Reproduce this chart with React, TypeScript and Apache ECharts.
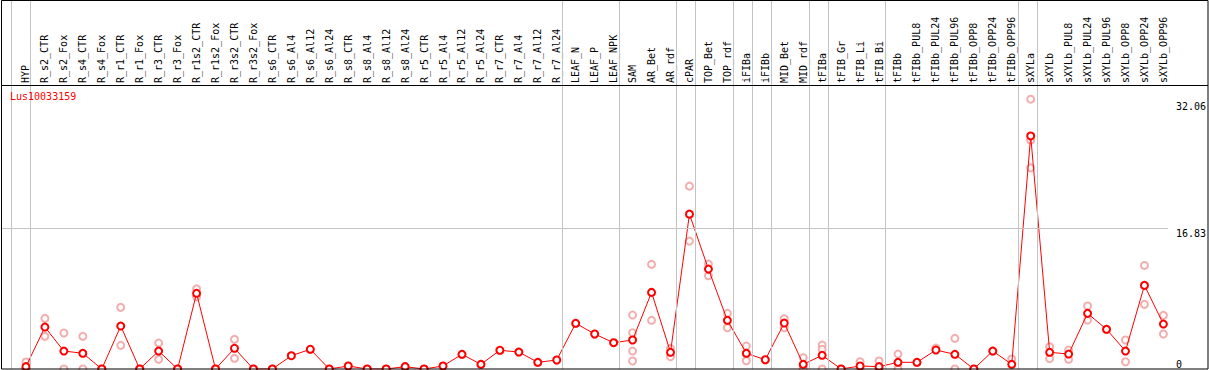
import React, { useEffect, useRef } from "react";
import * as echarts from "echarts";

const geneId = "Lus10033159";

const categories = [
  "HYP", "R_s2_CTR", "R_s2_Fox", "R_s4_CTR", "R_s4_Fox", "R_r1_CTR", "R_r1_Fox", "R_r3_CTR", "R_r3_Fox",
  "R_r1s2_CTR", "R_r1s2_Fox", "R_r3s2_CTR", "R_r3s2_Fox", "R_s6_CTR", "R_s6_Al4", "R_s6_Al12", "R_s6_Al24",
  "R_s8_CTR", "R_s8_Al4", "R_s8_Al12", "R_s8_Al24", "R_r5_CTR", "R_r5_Al4", "R_r5_Al12", "R_r5_Al24",
  "R_r7_CTR", "R_r7_Al4", "R_r7_Al12", "R_r7_Al24", "LEAF_N", "LEAF_P", "LEAF_NPK", "SAM", "AR_Bet", "AR_rdf",
  "cPAR", "TOP_Bet", "TOP_rdf", "iFIBa", "iFIBb", "MID_Bet", "MID_rdf", "tFIBa", "tFIB_Gr", "tFIB_Li", "tFIB_Bi",
  "tFIBb", "tFIBb_PUL8", "tFIBb_PUL24", "tFIBb_PUL96", "tFIBb_OPP8", "tFIBb_OPP24", "tFIBb_OPP96",
  "sXYLa", "sXYLb", "sXYLb_PUL8", "sXYLb_PUL24", "sXYLb_PUL96", "sXYLb_OPP8", "sXYLb_OPP24", "sXYLb_OPP96",
];

const means = [
  0.28, 5.02, 2.15, 1.88, 0, 5.14, 0, 2.15, 0, 9.06, 0, 2.48, 0, 0, 1.59, 2.36, 0,
  0.36, 0, 0, 0.28, 0, 0.36, 1.76, 0.56, 2.24, 2.03, 0.8, 1.08, 5.47, 4.19, 3.15, 3.47, 9.17, 2.0,
  18.54, 11.96, 5.83, 1.88, 1.11, 5.5, 0.56, 1.64, 0, 0.36, 0.28,
  0.8, 0.8, 2.27, 1.76, 0, 2.15, 0.56,
  27.9, 2.0, 1.79, 6.66, 4.75, 2.15, 10.01, 5.38,
];

const replicates = [
  [0.84, 0, 0], [6.06, 3.91], [4.31, 0], [3.91, 0], [0, 0], [7.38, 2.83], [0, 0], [3.11, 1.16], [0, 0],
  [9.6, 8.65], [0, 0], [3.55, 1.28], [0, 0], [0, 0], [1.59], [2.36], [0],
  [0.36], [0], [0], [0.28], [0], [0.36], [1.76], [0.56],
  [2.24], [2.03], [0.8], [1.08], [5.47], [4.19], [3.15], [6.46, 4.34, 2.15, 0.96], [12.52, 5.83], [2.48, 1.47],
  [21.89, 15.31], [12.56, 11.16], [6.66, 4.94], [2.75, 0.99], [1.11], [6.02, 4.94], [1.35, 0.33, 0], [2.87, 2.36, 0], [0], [0.87, 0.12], [0.96, 0],
  [1.79, 0], [0.8], [2.51], [3.67, 0], [0], [2.15], [1.2],
  [32.3, 27.39, 24.08], [2.67, 1.23], [2.27, 1.16], [7.54, 5.86], [4.75], [3.47, 0.87], [12.4, 7.74], [6.42, 4.19],
];

// index of the last category of each group (-1 = before the first)
const groupEnds = [-1, 0, 28, 31, 34, 35, 37, 38, 39, 41, 42, 45, 52, 53, 60];

const yTicksTop = [16.83, 32.06];
const yTicksBottom = [0];
const gridLineValue = 16.83;

const XMIN = -1.316;
const XMAX = 60.237;
const YMAX = 34;
const SEP_OFFSET = 0.237;

const FONT = "'DejaVu Sans Mono', monospace";
const GRAY = "#c4c4c4";

export default function App() {
  const ref = useRef<HTMLDivElement>(null);

  useEffect(() => {
    if (!ref.current) return;
    const chart = echarts.init(ref.current, undefined, { renderer: "svg" });

    const sepLines = groupEnds.map((i) => ({ xAxis: i + SEP_OFFSET }));
    const repData: number[][] = [];
    replicates.forEach((arr, i) => arr.forEach((v) => repData.push([i, v])));

    chart.setOption({
      animation: false,
      grid: [
        { left: 1, right: 38.5, top: 85, bottom: 1 },
        { left: 1, right: 38.5, top: 0, bottom: 1 },
      ],
      xAxis: [
        { gridIndex: 0, type: "value", min: XMIN, max: XMAX, show: false },
        {
          gridIndex: 0,
          type: "value",
          min: XMIN,
          max: XMAX,
          position: "top",
          axisLine: { show: false },
          axisTick: { show: false },
          splitLine: { show: false },
          axisLabel: {
            customValues: categories.map((_, i) => i),
            formatter: (v: number) => categories[Math.round(v)] ?? "",
            rotate: 90,
            margin: 2,
            fontFamily: FONT,
            fontSize: 10,
            color: "#000",
          },
        },
        { gridIndex: 1, type: "value", min: XMIN, max: XMAX, show: false },
      ],
      yAxis: [
        {
          gridIndex: 0,
          type: "value",
          min: 0,
          max: YMAX,
          position: "right",
          axisLine: { show: false },
          axisTick: { show: false },
          splitLine: { show: false },
          axisLabel: {
            customValues: yTicksTop,
            formatter: (v: number) => String(v),
            verticalAlign: "top",
            margin: 8,
            fontFamily: FONT,
            fontSize: 10,
            color: "#000",
          },
        },
        {
          gridIndex: 0,
          type: "value",
          min: 0,
          max: YMAX,
          position: "right",
          axisLine: { show: false },
          axisTick: { show: false },
          splitLine: { show: false },
          axisLabel: {
            customValues: yTicksBottom,
            formatter: (v: number) => String(v),
            verticalAlign: "bottom",
            margin: 8,
            fontFamily: FONT,
            fontSize: 10,
            color: "#000",
          },
        },
        { gridIndex: 1, type: "value", min: 0, max: 1, show: false },
      ],
      graphic: [
        {
          type: "rect",
          shape: { x: 1.5, y: 0.5, width: 1206.5, height: 368.5 },
          style: { fill: "none", stroke: "#000", lineWidth: 1 },
          z: 100,
          silent: true,
        },
        {
          type: "line",
          shape: { x1: 1, y1: 85.5, x2: 1208, y2: 85.5 },
          style: { stroke: "#000", lineWidth: 1 },
          z: 100,
          silent: true,
        },
        {
          type: "text",
          x: 10,
          y: 91,
          style: { text: geneId, fill: "#ff0000", font: `10px ${FONT}` },
          z: 100,
          silent: true,
        },
      ],
      series: [
        {
          type: "line",
          xAxisIndex: 2,
          yAxisIndex: 2,
          data: [[-100, -100]],
          symbol: "none",
          lineStyle: { width: 0 },
          silent: true,
          z: 1,
          markLine: {
            silent: true,
            symbol: ["none", "none"],
            label: { show: false },
            lineStyle: { color: GRAY, width: 1, type: "solid" },
            data: sepLines,
          },
        },
        {
          type: "line",
          xAxisIndex: 0,
          yAxisIndex: 0,
          data: [[XMIN - 10, -100]],
          symbol: "none",
          lineStyle: { width: 0 },
          silent: true,
          z: 1,
          markLine: {
            silent: true,
            symbol: ["none", "none"],
            label: { show: false },
            lineStyle: { color: GRAY, width: 1, type: "solid" },
            data: [{ yAxis: gridLineValue }],
          },
        },
        {
          type: "scatter",
          xAxisIndex: 0,
          yAxisIndex: 0,
          data: repData,
          symbol: "emptyCircle",
          symbolSize: 7,
          itemStyle: { color: "#f09a9a", borderColor: "#f09a9a", borderWidth: 1.2 },
          silent: true,
          z: 3,
        },
        {
          type: "line",
          xAxisIndex: 0,
          yAxisIndex: 0,
          data: means.map((v, i) => [i, v]),
          symbol: "emptyCircle",
          symbolSize: 7,
          showAllSymbol: true,
          lineStyle: { color: "#ff0000", width: 1 },
          itemStyle: { color: "#ff0000", borderColor: "#ff0000", borderWidth: 1.8 },
          silent: true,
          z: 4,
        },
      ],
    });

    return () => chart.dispose();
  }, []);

  return (
    <div
      ref={ref}
      style={{ position: "absolute", left: 0, top: 0, width: 1209, height: 370, background: "#fff" }}
    />
  );
}
